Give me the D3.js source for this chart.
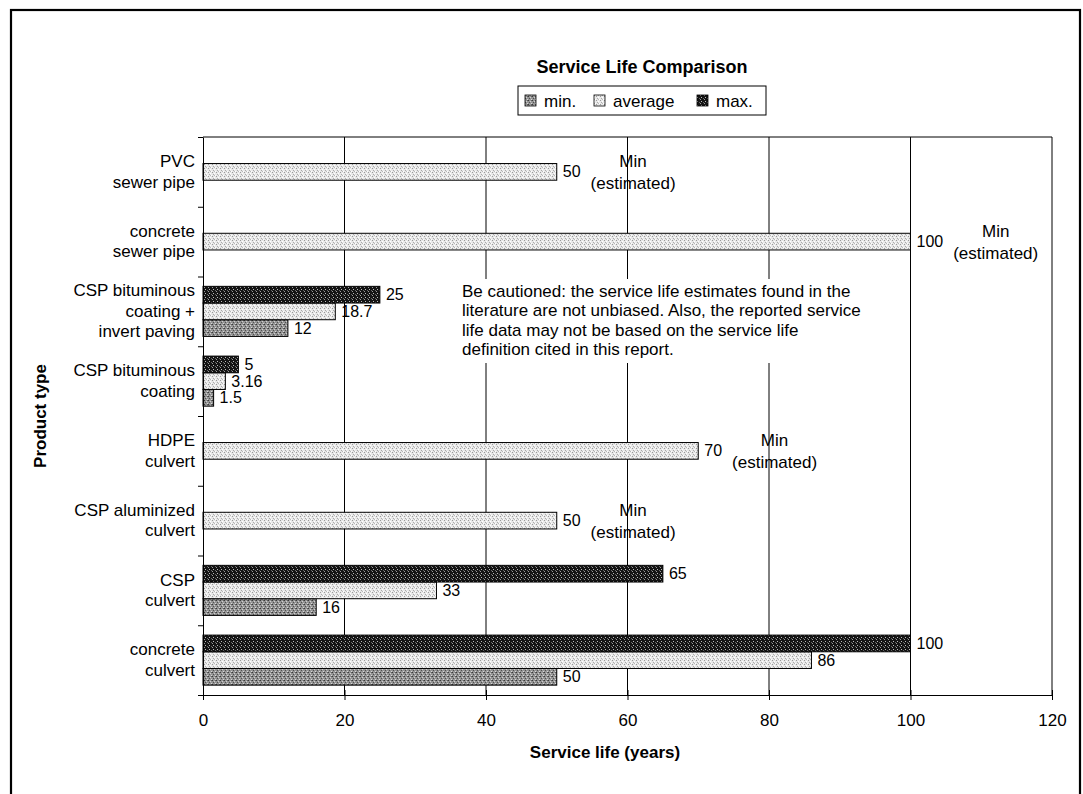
<!DOCTYPE html>
<html>
<head>
<meta charset="utf-8">
<script src="https://cdn.jsdelivr.net/npm/d3@7"></script>
<style>
  html, body { margin: 0; padding: 0; background: #fff; }
  svg { display: block; font-family: "Liberation Sans", Arial, sans-serif; }
</style>
</head>
<body>
<svg id="chart" width="1083" height="794"></svg>
<script>
// Product types, top to bottom, one entry per text line
const categories = [
  ["PVC", "sewer pipe"],
  ["concrete", "sewer pipe"],
  ["CSP bituminous", "coating +", "invert paving"],
  ["CSP bituminous", "coating"],
  ["HDPE", "culvert"],
  ["CSP aluminized", "culvert"],
  ["CSP", "culvert"],
  ["concrete", "culvert"]
];
// Service life in years (null = not reported)
const minValues = [null, null, 12, 1.5, null, null, 16, 50];
const averageValues = [50, 100, 18.7, 3.16, 70, 50, 33, 86];
const maxValues = [null, null, 25, 5, null, null, 65, 100];
// Products whose figure is only an estimated minimum
const estimatedMin = [true, true, false, false, true, true, false, false];

const seriesNames = ["min.", "average", "max."];
const xTicks = [0, 20, 40, 60, 80, 100, 120];
const chartTitle = "Service Life Comparison";
const xTitle = "Service life (years)";
const yTitle = "Product type";
const noteLines = [
  "Be cautioned: the service life estimates found in the",
  "literature are not unbiased.  Also, the reported service",
  "life data may not be based on the service life",
  "definition cited in this report."
];

const svg = d3.select("#chart");
const FONT = 17;
const VALUE_FONT = 16;

// Stippled fills imitating the monochrome print patterns
const defs = svg.append("defs");
function pattern(id, bg, dots) {
  const p = defs.append("pattern").attr("id", id)
    .attr("width", 4).attr("height", 4).attr("patternUnits", "userSpaceOnUse");
  p.append("rect").attr("width", 4).attr("height", 4).attr("fill", bg);
  dots.forEach(([x, y, c]) => p.append("rect").attr("x", x).attr("y", y)
    .attr("width", 1).attr("height", 1).attr("fill", c));
}
pattern("pMin", "#949494", [[0,0,"#3a3a3a"],[2,1,"#d0d0d0"],[1,2,"#505050"],[3,3,"#d8d8d8"],[3,0,"#606060"]]);
pattern("pAvg", "#e8e8e8", [[0,0,"#9a9a9a"],[2,1,"#fff"],[1,2,"#aaa"],[3,3,"#fff"],[2,3,"#b8b8b8"]]);
pattern("pMax", "#141414", [[1,1,"#bbb"],[3,2,"#666"],[0,3,"#999"]]);
const fills = { "min.": "url(#pMin)", "average": "url(#pAvg)", "max.": "url(#pMax)" };

// Outer chart frame
svg.append("rect").attr("x", 11).attr("y", 10).attr("width", 1069).attr("height", 810)
  .attr("fill", "none").attr("stroke", "#000").attr("stroke-width", 2.2);

const plot = { left: 203, right: 1052, top: 137, bottom: 695 };
const x = d3.scaleLinear().domain([0, 120]).range([plot.left, plot.right]);
const y = d3.scaleBand().domain(d3.range(categories.length)).range([plot.top, plot.bottom]);
const sub = d3.scaleBand().domain(["max.", "average", "min."]).range([0, y.bandwidth()])
  .paddingInner(0).paddingOuter(0.59);

// Title
svg.append("text").attr("x", 642).attr("y", 67).attr("text-anchor", "middle")
  .attr("dominant-baseline", "central").attr("font-weight", "bold").attr("font-size", 18)
  .text(chartTitle);

// Legend
const legend = svg.append("g");
legend.append("rect").attr("x", 518).attr("y", 86).attr("width", 248).attr("height", 29)
  .attr("fill", "#fff").attr("stroke", "#000").attr("stroke-width", 1);
const legendX = [525, 594, 697];
seriesNames.forEach((name, i) => {
  legend.append("rect").attr("x", legendX[i]).attr("y", 95).attr("width", 11).attr("height", 11)
    .attr("fill", fills[name]).attr("stroke", "#000").attr("stroke-width", 0.8);
  legend.append("text").attr("x", legendX[i] + 19).attr("y", 101).attr("dominant-baseline", "central")
    .attr("font-size", FONT).text(name);
});

// Vertical gridlines
svg.append("g").selectAll("line").data(xTicks.filter(t => t > 0)).join("line")
  .attr("x1", d => x(d)).attr("x2", d => x(d)).attr("y1", plot.top).attr("y2", plot.bottom)
  .attr("stroke", "#000").attr("stroke-width", 1);
// Plot frame top edge
svg.append("line").attr("x1", plot.left).attr("x2", plot.right).attr("y1", plot.top).attr("y2", plot.top)
  .attr("stroke", "#000").attr("stroke-width", 1);

// Bars
const rows = [];
categories.forEach((c, i) => {
  [["min.", minValues[i]], ["average", averageValues[i]], ["max.", maxValues[i]]].forEach(([s, v]) => {
    if (v != null) rows.push({ i, s, v });
  });
});
svg.append("g").selectAll("rect").data(rows).join("rect")
  .attr("x", x(0)).attr("y", d => y(d.i) + sub(d.s))
  .attr("width", d => x(d.v) - x(0)).attr("height", sub.bandwidth())
  .attr("fill", d => fills[d.s]).attr("stroke", "#000").attr("stroke-width", 1);

// Value labels, plus the "Min (estimated)" remark where it applies
const labels = svg.append("g").attr("font-size", VALUE_FONT);
rows.forEach(d => {
  const cy = y(d.i) + sub(d.s) + sub.bandwidth() / 2;
  const t = labels.append("text").attr("x", x(d.v) + 6).attr("y", cy)
    .attr("dominant-baseline", "central").text(d.v);
  if (d.s === "average" && estimatedMin[d.i]) {
    const end = x(d.v) + 6 + t.node().getComputedTextLength();
    const g = labels.append("g").attr("font-size", FONT);
    const l2 = g.append("text").attr("x", 0).attr("y", cy + 12).attr("dominant-baseline", "central")
      .text("(estimated)");
    const w = l2.node().getComputedTextLength();
    l2.attr("x", end + 10 + w / 2).attr("text-anchor", "middle");
    g.append("text").attr("x", end + 10 + w / 2).attr("y", cy - 10).attr("text-anchor", "middle")
      .attr("dominant-baseline", "central").text("Min");
  }
});

// Cautionary note on a white box
const note = svg.append("g").attr("font-size", FONT);
note.append("rect").attr("x", 456).attr("y", 279).attr("width", 420).attr("height", 84).attr("fill", "#fff");
noteLines.forEach((line, i) => {
  note.append("text").attr("x", 462).attr("y", 291 + i * 19.5).attr("dominant-baseline", "central").text(line);
});

// X axis with cross ticks
const xAxis = svg.append("g").attr("transform", `translate(0,${plot.bottom})`)
  .call(d3.axisBottom(x).tickValues(xTicks).tickSizeInner(5).tickSizeOuter(0).tickPadding(14));
xAxis.selectAll(".tick line").attr("y1", -5).attr("stroke", "#000");
xAxis.select(".domain").attr("stroke", "#000");
xAxis.selectAll("text").attr("font-size", FONT).attr("font-family", null).attr("fill", "#000");

// Y axis: ticks at category boundaries
const yEdges = d3.scaleLinear().domain([0, categories.length]).range([plot.top, plot.bottom]);
const yAxis = svg.append("g").attr("transform", `translate(${plot.left},0)`)
  .call(d3.axisLeft(yEdges).tickValues(d3.range(categories.length + 1)).tickFormat("").tickSizeInner(5).tickSizeOuter(0));
yAxis.selectAll("line, path").attr("stroke", "#000");

// Category labels
const catG = svg.append("g").attr("font-size", FONT).attr("text-anchor", "end");
categories.forEach((lines, i) => {
  const cy = y(i) + y.bandwidth() / 2;
  lines.forEach((ln, j) => {
    catG.append("text").attr("x", 195).attr("y", cy + (j - (lines.length - 1) / 2) * 20.5)
      .attr("dominant-baseline", "central").text(ln);
  });
});

// Axis titles
svg.append("text").attr("x", 605).attr("y", 752).attr("text-anchor", "middle")
  .attr("dominant-baseline", "central").attr("font-weight", "bold").attr("font-size", FONT).text(xTitle);
svg.append("text").attr("transform", `translate(40,${(plot.top + plot.bottom) / 2}) rotate(-90)`)
  .attr("text-anchor", "middle").attr("dominant-baseline", "central")
  .attr("font-weight", "bold").attr("font-size", FONT).text(yTitle);
</script>
</body>
</html>
